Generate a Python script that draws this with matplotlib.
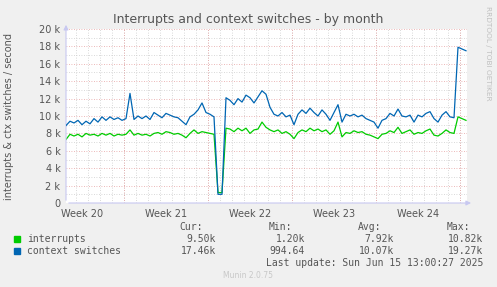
import matplotlib
matplotlib.use('Agg')
import matplotlib.pyplot as plt
import matplotlib.dates as mdates
import pandas as pd

# samples every 8 hours, values in thousands per second
times = pd.date_range('2025-05-13 04:00', periods=101, freq='8h')
interrupts = [7.3, 7.9, 7.7, 7.9, 7.6, 8.0, 7.8, 7.9, 7.7, 8.0,
              7.8, 8.0, 7.7, 7.9, 7.8, 7.9, 8.4, 7.8, 8.0, 7.8,
              7.9, 7.7, 8.0, 8.1, 7.9, 8.2, 8.1, 7.9, 8.0, 7.8,
              7.5, 8.0, 8.4, 8.0, 8.2, 8.1, 8.0, 7.9, 1.2, 1.2,
              8.6, 8.5, 8.2, 8.6, 8.3, 8.6, 8.0, 8.4, 8.5, 9.3,
              8.7, 8.4, 8.2, 8.4, 8.0, 8.2, 7.9, 7.4, 8.1, 8.4,
              8.2, 8.6, 8.3, 8.5, 8.2, 8.4, 7.9, 8.3, 9.3, 7.6,
              8.1, 8.0, 8.3, 8.1, 8.2, 7.9, 7.8, 7.6, 7.4, 7.9,
              8.0, 8.3, 8.1, 8.7, 8.0, 8.2, 8.4, 7.9, 8.1, 8.0,
              8.3, 8.5, 7.8, 7.7, 8.0, 8.4, 8.1, 8.0, 9.9, 9.7, 9.5]
ctx_switches = [8.9, 9.4, 9.2, 9.5, 9.0, 9.4, 9.1, 9.7, 9.3, 9.9,
                9.5, 9.9, 9.6, 9.8, 9.5, 9.7, 12.6, 9.6, 10.0, 9.7,
                10.0, 9.6, 10.4, 10.1, 9.8, 10.3, 10.1, 9.9, 9.8, 9.4,
                9.0, 9.9, 10.2, 10.7, 11.5, 10.4, 10.2, 9.9, 1.0, 1.0,
                12.1, 11.8, 11.3, 12.0, 11.6, 12.4, 12.1, 11.5, 12.2, 12.9,
                12.5, 11.0, 10.2, 10.0, 10.4, 9.9, 10.1, 9.0, 10.2, 10.7,
                10.3, 10.9, 10.4, 10.0, 10.7, 10.2, 9.5, 10.4, 11.3, 9.3,
                10.2, 10.0, 10.2, 9.9, 10.1, 9.7, 9.5, 9.3, 8.6, 9.5,
                9.7, 10.3, 10.0, 10.8, 10.0, 9.9, 10.1, 9.3, 10.1, 9.9,
                10.3, 10.5, 9.7, 9.3, 10.1, 10.5, 9.9, 9.8, 17.9, 17.7, 17.5]

week_starts = pd.date_range('2025-05-18', periods=5, freq='7D')
week_labels = ['Week 20', 'Week 21', 'Week 22', 'Week 23', 'Week 24']
label_pos = pd.date_range('2025-05-14 12:00', periods=5, freq='7D')
days = pd.date_range('2025-05-14', '2025-06-15', freq='D')
yticks = [0, 2, 4, 6, 8, 10, 12, 14, 16, 18, 20]
ylabels = ['0'] + ['%d k' % v for v in yticks[1:]]

legend_rows = [('interrupts', '#00cc00', '9.50k', '1.20k', '7.92k', '10.82k'),
               ('context switches', '#0066b3', '17.46k', '994.64', '10.07k', '19.27k')]

bg = '#f0f0f0'
txt = '#555555'
fig = plt.figure(figsize=(4.97, 2.87), dpi=100, facecolor=bg)
ax = fig.add_axes([66/497, 1-203/287, 401/497, 174/287])
ax.set_facecolor('white')

xmin = pd.Timestamp('2025-05-13 04:00')
xmax = pd.Timestamp('2025-06-15 14:00')
ax.set_xlim(xmin, xmax)
ax.set_ylim(0, 20)

dot = (0, (1, 2))
for d in days:
    ax.axvline(d, color='#cccccc', lw=0.6, ls=dot, zorder=1)
for v in range(1, 20, 2):
    ax.axhline(v, color='#cccccc', lw=0.6, ls=dot, zorder=1)
for d in week_starts:
    ax.axvline(d, color='#e6a0a0', lw=0.6, ls=dot, zorder=1)
for v in yticks[1:]:
    ax.axhline(v, color='#e6a0a0', lw=0.6, ls=dot, zorder=1)

ax.plot(times, interrupts, color='#00cc00', lw=0.9, zorder=3)
ax.plot(times, ctx_switches, color='#0066b3', lw=0.9, zorder=4)

for s in ax.spines.values():
    s.set_visible(False)
ax.set_yticks(yticks)
ax.set_yticklabels(ylabels, color=txt, fontsize=7)
ax.set_xticks(label_pos)
ax.set_xticklabels(week_labels, color=txt, fontsize=7)
ax.tick_params(length=0, pad=4)

# axis lines with arrows
ax.annotate('', xy=(0, 1.04), xytext=(0, 0), xycoords='axes fraction',
            arrowprops=dict(arrowstyle='-|>', color='#c8c8f0', lw=0.8,
                            mutation_scale=7), annotation_clip=False)
ax.annotate('', xy=(1.017, 0), xytext=(0, 0), xycoords='axes fraction',
            arrowprops=dict(arrowstyle='-|>', color='#c8c8f0', lw=0.8,
                            mutation_scale=7), annotation_clip=False)

fig.text(248/497, 1-19/287, 'Interrupts and context switches - by month',
         ha='center', va='center', fontsize=9, color=txt)
fig.text(9/497, 1-116/287, 'interrupts & ctx switches / second', rotation=90,
         ha='center', va='center', fontsize=7, color=txt)
fig.text(488/497, 1-6/287, 'RRDTOOL / TOBI OETIKER', rotation=270,
         ha='center', va='top', fontsize=5.3, color='#c0c0c0')

mono = 'DejaVu Sans Mono'
fs = 7
cols = [216, 305, 394, 483]
for x, h in zip(cols, ['Cur:', 'Min:', 'Avg:', 'Max:']):
    fig.text((x-13)/497, 1-227/287, h, ha='right', va='center',
             fontsize=fs, family=mono, color=txt)
for k, (name, c, *vals) in enumerate(legend_rows):
    y = 1-(239+12*k)/287
    fig.patches.append(plt.Rectangle((14/497, y-3/287), 6/497, 6/287,
                                     transform=fig.transFigure, color=c))
    fig.text(27/497, y, name, ha='left', va='center', fontsize=fs,
             family=mono, color=txt)
    for x, v in zip(cols, vals):
        fig.text(x/497, y, v, ha='right', va='center', fontsize=fs,
                 family=mono, color=txt)
fig.text(483/497, 1-263/287, 'Last update: Sun Jun 15 13:00:27 2025',
         ha='right', va='center', fontsize=fs, family=mono, color=txt)
fig.text(248/497, 1-276/287, 'Munin 2.0.75', ha='center', va='center',
         fontsize=5.5, color='#c8c8c8')

fig.savefig('out.png', dpi=100, facecolor=bg)
